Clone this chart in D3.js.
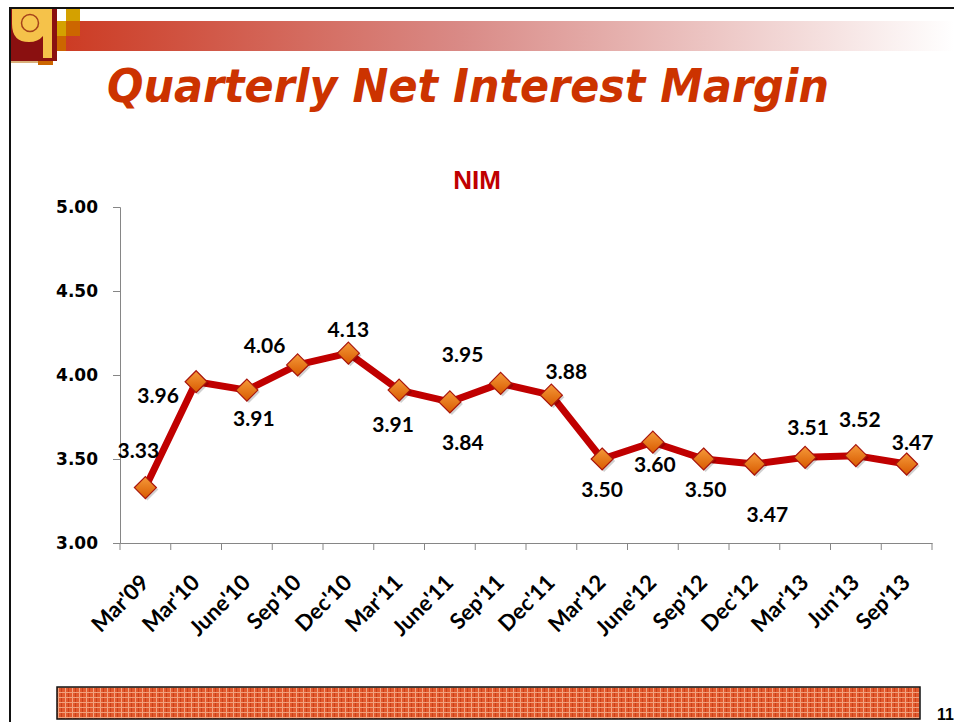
<!DOCTYPE html>
<meta charset="utf-8">
<script src="https://d3js.org/d3.v7.min.js"></script>
<style>
  body { margin: 0; background: #fff; }
  svg { display: block; }
</style>
<body>
<div id="viz"></div>
<script>

// chart data
const quarters = ["Mar'09", "Mar'10", "June'10", "Sep'10", "Dec'10", "Mar'11", "June'11", "Sep'11",
                  "Dec'11", "Mar'12", "June'12", "Sep'12", "Dec'12", "Mar'13", "Jun'13", "Sep'13"];
const nim = [3.33, 3.96, 3.91, 4.06, 4.13, 3.91, 3.84, 3.95, 3.88, 3.50, 3.60, 3.50, 3.47, 3.51, 3.52, 3.47];
const yTicks = [3.00, 3.50, 4.00, 4.50, 5.00];

// where each data label sits relative to its point [dx, dy]
const labelOffsets = [[-7, -30], [-38, 21], [7, 36], [-33, -12], [0, -16], [-6, 42], [13, 48], [-38, -21],
                      [15, -16], [0, 38], [2, 30], [2, 38], [13, 58], [3, -22], [4, -29], [6, -14]];

const W = 954, H = 722;
const svg = d3.select("#viz").append("svg")
    .attr("width", W)
    .attr("height", H);

const defs = svg.append("defs");

// header gradient bar
const hg = defs.append("linearGradient").attr("id", "hdr");
hg.append("stop").attr("offset", "0%").attr("stop-color", "#cc3a22");
hg.append("stop").attr("offset", "45%").attr("stop-color", "#d98a86");
hg.append("stop").attr("offset", "100%").attr("stop-color", "#ffffff");

// marker gradient
const mg = defs.append("linearGradient").attr("id", "mk")
    .attr("x1", "0%").attr("y1", "0%").attr("x2", "0%").attr("y2", "100%");
mg.append("stop").attr("offset", "0%").attr("stop-color", "#f59a3a");
mg.append("stop").attr("offset", "100%").attr("stop-color", "#d85a00");

// bottom bar pattern
const pat = defs.append("pattern").attr("id", "weave")
    .attr("width", 7).attr("height", 5).attr("patternUnits", "userSpaceOnUse");
pat.append("rect").attr("width", 7).attr("height", 5).attr("fill", "#e25a2e");
pat.append("rect").attr("x", 2).attr("width", 1).attr("height", 5).attr("fill", "#f3a583");
pat.append("rect").attr("x", 5).attr("width", 1).attr("height", 5).attr("fill", "#c8401a");
pat.append("rect").attr("y", 2).attr("width", 7).attr("height", 1).attr("fill", "#f0a07c");

// slide frame
svg.append("line").attr("x1", 9).attr("x2", W).attr("y1", 8).attr("y2", 8)
    .attr("stroke", "#111").attr("stroke-width", 2);
svg.append("line").attr("x1", 10).attr("x2", 10).attr("y1", 7).attr("y2", H)
    .attr("stroke", "#111").attr("stroke-width", 2);

// header bar and logo
svg.append("rect").attr("x", 57).attr("y", 21).attr("width", W - 57).attr("height", 30).attr("fill", "url(#hdr)");
svg.append("rect").attr("x", 66).attr("y", 9).attr("width", 14).attr("height", 12).attr("fill", "#d4a100");
svg.append("rect").attr("x", 66).attr("y", 21).attr("width", 14).attr("height", 15).attr("fill", "#cc6600");
svg.append("rect").attr("x", 57).attr("y", 21).attr("width", 9).attr("height", 15).attr("fill", "#d4a100");
svg.append("rect").attr("x", 57).attr("y", 36).attr("width", 9).attr("height", 15).attr("fill", "#cc6600");
svg.append("rect").attr("x", 11).attr("y", 9).attr("width", 46).attr("height", 52).attr("fill", "#8a1010");
svg.append("path")
    .attr("d", "M12,9 H52 V58 H43 V36 Q38,42 29,42 Q12,42 12,24 Z")
    .attr("fill", "#f5c24a");
svg.append("circle").attr("cx", 30).attr("cy", 23).attr("r", 8.5)
    .attr("fill", "#f7c64e").attr("stroke", "#a5421a").attr("stroke-width", 1.5);
svg.append("rect").attr("x", 11).attr("y", 61).attr("width", 27).attr("height", 2).attr("fill", "#d9b07a");
svg.append("rect").attr("x", 38).attr("y", 61).attr("width", 15).attr("height", 4).attr("fill", "#cc6600");

// slide title
svg.append("text")
    .attr("x", 107).attr("y", 102)
    .attr("textLength", 722).attr("lengthAdjust", "spacingAndGlyphs")
    .style("font-family", "DejaVu Sans")
    .style("font-weight", "bold").style("font-style", "italic")
    .style("font-size", "47px")
    .attr("fill", "#cc3300")
    .text("Quarterly Net Interest Margin");

// chart
const x = d3.scaleBand().domain(quarters).range([120, 932]);
const y = d3.scaleLinear().domain([3, 5]).range([543, 207]);

svg.append("text")
    .attr("x", 477).attr("y", 189)
    .attr("text-anchor", "middle")
    .style("font-family", "Liberation Sans").style("font-weight", "bold").style("font-size", "26px")
    .attr("fill", "#c00000")
    .text("NIM");

const yAxis = svg.append("g")
    .attr("transform", "translate(120,0)")
    .call(d3.axisLeft(y).tickValues(yTicks).tickFormat(d3.format(".2f")).tickSize(7).tickPadding(15));
yAxis.selectAll("path, line").attr("stroke", "#868686");
yAxis.selectAll("text")
    .style("font-family", "DejaVu Sans").style("font-weight", "bold").style("font-size", "17px")
    .attr("fill", "#000");

const xAxis = svg.append("g")
    .attr("transform", "translate(0,543)")
    .call(d3.axisBottom(x).tickSize(7).tickSizeOuter(0).tickFormat(""));
xAxis.selectAll(".tick").remove();
xAxis.select("path").attr("stroke", "#868686");
xAxis.selectAll("line.sep")
  .data(d3.range(quarters.length + 1))
  .join("line")
    .attr("class", "sep")
    .attr("x1", i => 120 + i * x.step()).attr("x2", i => 120 + i * x.step())
    .attr("y1", 0).attr("y2", 7)
    .attr("stroke", "#868686");

svg.append("g").selectAll("text")
  .data(quarters)
  .join("text")
    .attr("transform", d => `translate(${x(d) + x.bandwidth() / 2 + 5},${584}) rotate(-45)`)
    .attr("text-anchor", "end")
    .style("font-family", "Lato").style("font-weight", "bold").style("font-size", "22px")
    .attr("fill", "#000")
    .text(d => d);

const cx = (d, i) => x(quarters[i]) + x.bandwidth() / 2;

svg.append("path")
    .datum(nim)
    .attr("fill", "none")
    .attr("stroke", "#c00000")
    .attr("stroke-width", 7)
    .attr("stroke-linejoin", "round")
    .attr("d", d3.line().x(cx).y(d => y(d)));

const diamond = "M0,-11 L11,0 L0,11 L-11,0 Z";
svg.append("g").selectAll("path")
  .data(nim)
  .join("path")
    .attr("transform", (d, i) => `translate(${cx(d, i) + 2},${y(d) + 2})`)
    .attr("d", diamond)
    .attr("fill", "rgba(0,0,0,0.18)");
svg.append("g").selectAll("path")
  .data(nim)
  .join("path")
    .attr("transform", (d, i) => `translate(${cx(d, i)},${y(d)})`)
    .attr("d", diamond)
    .attr("fill", "url(#mk)")
    .attr("stroke", "#a8140c")
    .attr("stroke-width", 1.2);

svg.append("g").selectAll("text")
  .data(nim)
  .join("text")
    .attr("x", (d, i) => cx(d, i) + labelOffsets[i][0])
    .attr("y", (d, i) => y(d) + labelOffsets[i][1])
    .attr("text-anchor", "middle")
    .style("font-family", "Lato").style("font-weight", "bold").style("font-size", "21px")
    .attr("fill", "#000")
    .text(d => d3.format(".2f")(d));

// footer bar and page number
svg.append("rect").attr("x", 57).attr("y", 687).attr("width", 863).attr("height", 32)
    .attr("fill", "url(#weave)").attr("stroke", "#111").attr("stroke-width", 1.5);
svg.append("text")
    .attr("x", 937).attr("y", 720)
    .style("font-family", "Liberation Sans").style("font-weight", "bold").style("font-size", "16px")
    .attr("fill", "#000")
    .text("11");

</script>
</body>
